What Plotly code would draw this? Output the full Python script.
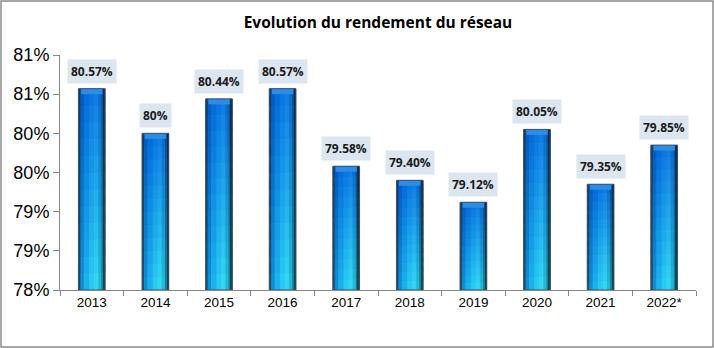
import plotly.graph_objects as go

# Network efficiency by year (%)
years = ["2013", "2014", "2015", "2016", "2017", "2018", "2019", "2020", "2021", "2022*"]
rendement = [80.57, 80.00, 80.44, 80.57, 79.58, 79.40, 79.12, 80.05, 79.35, 79.85]

Y_MIN, Y_MAX = 78.0, 81.0
BAR_W = 0.42

# Horizontal shading across a bar: (start, end, top colour, bottom colour)
columns = [
    (0.00, 0.07, (25, 55, 100), (25, 75, 110)),
    (0.07, 0.20, (0, 90, 190), (15, 145, 212)),
    (0.20, 0.40, (5, 105, 215), (28, 180, 238)),
    (0.40, 0.58, (10, 115, 225), (42, 205, 242)),
    (0.58, 0.74, (15, 122, 228), (52, 218, 242)),
    (0.74, 0.86, (12, 105, 205), (35, 188, 215)),
    (0.86, 0.94, (10, 75, 150), (25, 130, 150)),
    (0.94, 1.00, (15, 45, 85), (15, 75, 85)),
]
N_BANDS = 12
OVERLAP = 1.6  # each band/column is drawn a bit larger so neighbours hide the seams


def fmt_label(v):
    s = f"{v:.2f}"
    if s.endswith(".00"):
        s = s[:-3]
    return s + "%"


def mix(c_top, c_bot, t):
    # t = 1 at the top of the bar, 0 at the bottom
    r = [round(b + (a - b) * t) for a, b in zip(c_top, c_bot)]
    return f"rgb({r[0]},{r[1]},{r[2]})"


fig = go.Figure()

idx = list(range(len(years)))
heights = [v - Y_MIN for v in rendement]
for j in range(N_BANDS):
    t = (j + 0.5) / N_BANDS
    grow = OVERLAP if j < N_BANDS - 1 else 1.0
    bases = [Y_MIN + h * j / N_BANDS for h in heights]
    seg = [h / N_BANDS * grow for h in heights]
    for k, (x0, x1, ct, cb) in enumerate(columns):
        wx = (x1 - x0) * BAR_W
        if k < len(columns) - 1:
            wx += 0.012
        fig.add_trace(go.Bar(
            x=idx, y=seg, base=bases,
            width=wx,
            offset=-BAR_W / 2 + x0 * BAR_W,
            marker=dict(color=mix(ct, cb, t), line=dict(width=0)),
            hoverinfo="skip", showlegend=False,
        ))

# Lighter bevel cap on top of each bar
cap = 0.07
fig.add_trace(go.Bar(
    x=idx, y=[cap] * len(years), base=[v - cap for v in rendement],
    width=BAR_W * 0.8, offset=-BAR_W * 0.4,
    marker=dict(color="rgb(45,140,230)", line=dict(width=0)),
    hoverinfo="skip", showlegend=False,
))

# Thin outline around each bar
fig.add_trace(go.Bar(
    x=idx, y=heights, base=[Y_MIN] * len(years),
    width=BAR_W, offset=-BAR_W / 2,
    marker=dict(color="rgba(0,0,0,0)", line=dict(width=1, color="rgb(60,80,100)")),
    hovertemplate="%{customdata}<extra></extra>",
    customdata=[fmt_label(v) for v in rendement],
    showlegend=False,
))

# Value labels on a pale blue box above each bar
for i, v in zip(idx, rendement):
    fig.add_annotation(
        x=i, y=v, text=f"<b>{fmt_label(v)}</b>",
        showarrow=False, yanchor="bottom", yshift=5,
        font=dict(family="Open Sans, Arial", size=12, color="#1a1a1a"),
        bgcolor="#dce6f1", borderpad=3,
    )

L, R, T, B = 60, 18, 55, 58
W, H = 714, 348
pw, ph = W - L - R, H - T - B

# Outer frame of the chart
fig.add_shape(
    type="rect", xref="paper", yref="paper",
    x0=(-L + 1) / pw, x1=(W - L - 1) / pw,
    y0=(-B + 1) / ph, y1=(H - B - 1) / ph,
    line=dict(color="#8c8c8c", width=1.5), fillcolor="rgba(0,0,0,0)", layer="below",
)

fig.update_layout(
    width=W, height=H,
    margin=dict(l=L, r=R, t=T, b=B),
    paper_bgcolor="white", plot_bgcolor="white",
    barmode="overlay",
    title=dict(
        text="<b>Evolution du rendement du réseau</b>",
        x=0.5, xanchor="center", xref="paper", y=1 - 23 / H, yanchor="middle",
        font=dict(family="Open Sans, Arial", size=15.5, color="#000000"),
    ),
    xaxis=dict(
        range=[-0.5, len(years) - 0.5],
        tickmode="array", tickvals=idx, ticktext=years,
        showline=True, linecolor="#868686", linewidth=1,
        ticks="", showgrid=False, zeroline=False, fixedrange=True,
        tickfont=dict(family="Liberation Sans, Arial", size=13.5, color="#000"),
        minor=dict(tickmode="array", tickvals=[i - 0.5 for i in idx] + [len(years) - 0.5],
                   ticks="outside", ticklen=5, tickcolor="#868686", showgrid=False),
    ),
    yaxis=dict(
        range=[Y_MIN, Y_MAX], tickmode="linear", tick0=Y_MIN, dtick=0.5,
        tickformat=".0f", ticksuffix="%",
        showline=True, linecolor="#868686", linewidth=1,
        ticks="outside", ticklen=6, tickcolor="#868686",
        tickfont=dict(family="Liberation Sans, Arial", size=18, color="#000"),
        showgrid=False, zeroline=False, fixedrange=True,
    ),
)

fig.write_html("out.html")
